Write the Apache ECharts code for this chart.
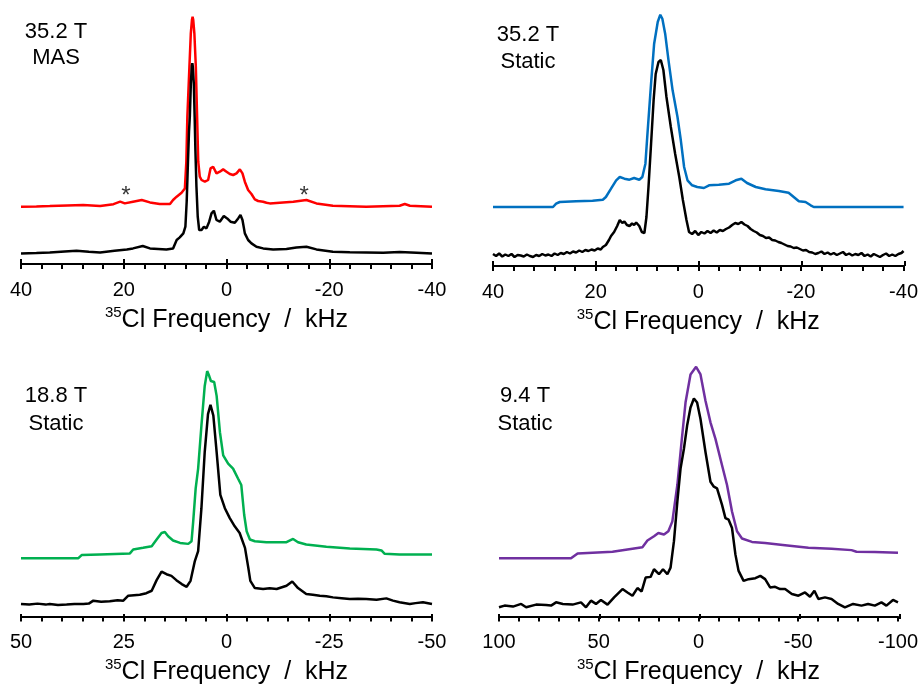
<!DOCTYPE html>
<html>
<head>
<meta charset="utf-8">
<script src="https://cdn.jsdelivr.net/npm/echarts@6/dist/echarts.min.js"></script>
<style>html,body{margin:0;padding:0;background:#fff;}#c{width:921px;height:686px;}</style>
</head>
<body>
<div id="c"></div>
<script>
// ---- Data (frequency in kHz, intensity in arbitrary units) ----
const xRanges = [[-40, 40], [-40, 40], [-50, 50], [-100, 100]];
const xIntervals = [20, 20, 25, 50];
const axisTitle = '{sup|35}{main|Cl Frequency  /  kHz}';
const panelLabels = [['35.2 T', 'MAS'], ['35.2 T', 'Static'], ['18.8 T', 'Static'], ['9.4 T', 'Static']];
const traceColors = ['#ff0000', '#0070c0', '#00b050', '#7030a0'];
const asteriskMark = '*';
const asteriskPos = [[19.6, 71.7], [-15.1, 71.7]];

const mas352Red = [[40,55],[37,55.3],[34.4,55.7],[31,56.3],[27.9,56.7],[24.6,55.7],[22,57.5],[20.7,60],[19.8,58.3],[18.2,60],[16.5,61.7],[14.9,59.3],[13,57.7],[11,57.7],[10.4,61.7],[9.7,65],[8.75,69],[8.1,73.3],[7.82,100],[7.62,145],[7.22,195],[6.95,228],[6.72,242],[6.6,245],[6.48,242],[6.25,228],[5.97,195],[5.72,145],[5.5,100],[5.2,85],[4.86,81.7],[4.21,80],[3.57,81.7],[3.11,93.3],[2.6,95],[1.95,88.3],[1.3,90],[0.65,92.3],[0,90],[-0.65,87.7],[-1.3,86.7],[-1.95,88.3],[-2.6,92.3],[-3.11,88.3],[-3.57,80],[-4.21,71.7],[-4.86,67.7],[-5.51,62.3],[-6.16,60.7],[-7.13,60],[-7.78,59],[-8.43,58.3],[-11,59.3],[-13,60],[-15.56,61.7],[-17.5,58.3],[-20.7,56],[-27.2,55],[-33.7,56],[-34.7,57.7],[-35.7,56],[-40,55]];
const mas352Black = [[40,8.3],[37,8.8],[34.4,9.3],[31.5,10.3],[29.2,11],[26.8,10],[24.6,9.3],[21.8,11],[19.4,12.3],[18.2,13.3],[16.3,15.7],[14.9,13.3],[11.7,12.3],[10.4,13.3],[9.7,21.7],[9.1,24.3],[8.4,28.3],[8.0,35],[7.75,60],[7.5,100],[7.3,130],[7.14,145],[6.94,178],[6.75,196],[6.65,198.4],[6.55,195],[6.36,178],[6.2,145],[6.05,111],[5.85,75],[5.6,45],[5.32,31.7],[4.86,31.7],[4.4,35],[3.9,33.3],[3.37,40],[2.92,48.3],[2.46,51],[1.95,41.7],[1.3,40],[0.52,45.7],[-0.13,43.3],[-0.78,40],[-1.62,39],[-2.27,43.3],[-2.72,46.7],[-3.11,41.7],[-3.57,28.3],[-4.21,21.7],[-4.86,18.3],[-5.83,15],[-7.13,13.3],[-9.08,12.3],[-11.67,12.7],[-13.6,14.3],[-15.56,15],[-17.5,12.3],[-20.7,10],[-24,9.5],[-27.2,9.3],[-30.5,9],[-33.7,9.7],[-37,9],[-40,8.3]];

const static352Blue = [[40,59],[28.3,59],[27.7,62.3],[27,64],[23.8,64.7],[20.6,65.3],[18.6,66.3],[18,69],[17,77.3],[16,85.7],[15.3,89],[14.4,87.3],[13.4,86.3],[12.5,88],[11.5,86.3],[10.9,89],[10.3,102.3],[9.9,132.3],[9.2,182.3],[8.6,222.3],[7.9,244],[7.4,251.3],[7.0,247.3],[6.45,232.3],[5.8,205.7],[5.0,175.7],[4.05,149],[3.4,125.7],[2.76,99],[2.1,85.7],[1.2,80.7],[0.2,79],[-1.1,78],[-2.1,80.7],[-4,81.3],[-6,82.3],[-7.3,85.7],[-8.4,87.3],[-9.5,83],[-11.2,79],[-13.1,76.7],[-15.7,75],[-17.6,73.3],[-18.6,69],[-19.6,64.7],[-20.9,64],[-21.9,60.7],[-22.5,59],[-40,59]];
const static352Black = [[40,12],[39.4,10],[38.8,12.5],[38.2,9.5],[37.6,11.5],[37,10],[36.4,12],[35.8,9],[35.2,11],[34.6,10.5],[34,9.5],[33.4,11.5],[32.8,10],[32.2,9],[31.6,11],[31,10],[30.4,12],[29.8,10.5],[29.2,11.5],[28.6,10],[28,12.5],[27.4,11],[26.8,13],[26.2,12],[25.6,14],[25,12.5],[24.4,14.5],[23.8,13.5],[23.2,15.5],[22.6,14],[22,16],[21.4,15],[20.8,16.5],[20.2,15.5],[19.6,17.5],[19,16.5],[18.6,19],[18,21],[17.4,26],[17,30],[16.4,34],[15.8,40],[15.3,46],[14.8,43],[14.4,44.5],[13.9,41],[13.4,40],[12.9,42.5],[12.5,41],[12.1,43.5],[11.5,40],[11,34],[10.5,33],[10.1,49],[9.7,79],[9.2,122],[8.7,166],[8.3,192],[7.75,204],[7.3,206],[6.8,196],[6.2,169],[5.35,139],[4.5,112],[3.7,89],[3.0,66],[2.3,46],[1.8,34],[1.2,32],[0.6,35],[0,31],[-0.6,34],[-1.2,32.5],[-1.8,35],[-2.4,33],[-3,35.5],[-3.6,33.5],[-4.2,36],[-4.8,35],[-5.4,37],[-6,38.5],[-6.6,41],[-7.2,43],[-7.8,42],[-8.4,44],[-9,41.5],[-9.6,40],[-10.2,37],[-10.8,35],[-11.4,33.5],[-12,31],[-12.6,30],[-13.2,28],[-13.8,28.5],[-14.4,26],[-15,25.5],[-15.6,24],[-16.2,23],[-16.8,21.5],[-17.4,20],[-18,19.5],[-18.6,18],[-19.2,18.5],[-19.8,17],[-20.4,15.5],[-21,16],[-21.6,14],[-22.2,13.5],[-22.8,12],[-23.4,13],[-24,14.5],[-24.6,12],[-25.2,13.5],[-25.8,11.5],[-26.4,13],[-27,11],[-27.6,12.5],[-28.2,14],[-28.8,11],[-29.4,12.5],[-30,10.5],[-30.6,12],[-31.2,11],[-31.8,13],[-32.4,10],[-33,11.5],[-33.6,9.5],[-34.2,12],[-34.8,10.5],[-35.4,9],[-36,11],[-36.6,12.5],[-37.2,10],[-37.8,11.5],[-38.4,10],[-39,12],[-39.6,13],[-40,15]];

const static188Green = [[50,57.7],[36.1,57.7],[35.25,61],[30.8,61.7],[23.5,62.7],[22.7,66.7],[20.3,68.3],[18.2,70],[17,76.7],[15.8,83.3],[15,84.3],[14.2,80],[13,75.7],[11.3,73.3],[9.3,72.3],[8.5,75],[8.1,95],[7.5,128.3],[6.9,148.3],[6.1,191.7],[5.3,231.7],[4.7,246.7],[4.2,241.7],[3.8,236.7],[3.0,235.7],[2.4,221.7],[1.6,185],[0.8,161.7],[-0.4,153.3],[-1.6,148.3],[-2.8,138.3],[-3.6,131.7],[-4.3,101.7],[-4.9,85],[-5.7,76.7],[-6.9,75],[-9.7,74],[-14.6,74],[-16.2,77.3],[-17.4,74],[-19.4,71.7],[-24.3,69.3],[-30,67.7],[-36.5,66.7],[-37.7,65.7],[-38.5,62.3],[-42.1,61.7],[-50,61.7]];
const static188Black = [[50,11.7],[48,11],[46,12],[44,11],[43,11.7],[41,10.7],[38.9,11],[37,11.5],[34.8,11.7],[33.5,12],[32.4,15],[30.5,14],[28.4,14.3],[26.5,15.5],[25.1,15],[23.9,20],[22.5,20.5],[21.1,21],[19.5,22.5],[18.2,25],[17,35.7],[15.8,44.3],[14.6,41.7],[13.4,40],[12.2,35.7],[10.9,31.7],[9.7,29],[8.75,35],[7.7,55],[6.9,65],[6.1,108.3],[5.3,165],[4.5,203.3],[3.9,212.7],[3.2,201.7],[2.4,165],[1.5,121.7],[0.4,108.3],[-0.8,98.3],[-2,90],[-3.2,83.3],[-4.5,68.3],[-5.3,48.3],[-5.8,35],[-6.9,27.7],[-8.9,26.7],[-10.5,27.5],[-12.2,26.7],[-14.6,30],[-16,34.3],[-17.4,27.7],[-19.4,21.7],[-21,21],[-22.7,20],[-24.3,19.5],[-25.9,18.3],[-28,17.5],[-30,16.7],[-32,17],[-34,16.7],[-36.5,16],[-38.9,17.3],[-40.5,15],[-42.1,13.3],[-44.6,11.7],[-46,12.5],[-47.8,13.3],[-50,11.7]];

const static94Purple = [[100,57.7],[63.9,57.7],[60.6,62.7],[43.1,64.3],[28.1,69],[25.6,75.7],[22.3,80],[20.1,83.3],[17.3,81.7],[15.1,85],[13.1,95],[10.6,131.7],[8.5,175],[6.5,215],[4,243.3],[1.2,251],[-1,243.3],[-3.5,216.7],[-6,195],[-8.5,178.3],[-11.8,151.7],[-14.3,131.7],[-16.8,105],[-19.3,85],[-21.8,77.7],[-26.8,74.3],[-33.4,73.3],[-43.4,71],[-55.1,68.3],[-66.7,67.3],[-76.7,66],[-79.2,64.3],[-88.4,64],[-100,63.3]];
const static94Black = [[100,8.3],[97.2,10],[93,9],[88.9,11.7],[86.4,8.3],[81.4,11],[76.4,10.7],[73.9,10],[71.4,13.3],[68,11.7],[63.1,11],[58.9,13.3],[56.4,8.3],[53.9,15],[51.4,11.7],[48.9,15.7],[45.6,11],[42.3,18.3],[38.1,26.7],[35.6,23.3],[33.1,20],[30.6,27.7],[28.5,24.3],[26.5,38.3],[24,39],[22.3,46.7],[19.8,41.7],[17.8,46.7],[15.6,41.7],[14,48.3],[12.3,75],[10.6,115],[9,148.3],[7.3,168.3],[5.7,191.7],[4,210],[2.3,219],[0.7,215],[-1,198.3],[-3.5,165],[-6,135],[-7.7,130],[-9.3,128.3],[-11.8,111.7],[-13.5,98.3],[-15.1,96.7],[-16.8,88.3],[-18.5,61.7],[-20.1,45],[-22.6,35],[-25.1,36.7],[-28.5,37.7],[-31,40],[-33.4,36.7],[-35.9,28.3],[-38.4,29],[-40.9,26.7],[-43.4,26.7],[-46.8,21.7],[-50.1,20],[-53.4,23.3],[-55.9,19],[-58.1,25],[-60.1,16.7],[-63.4,18.3],[-66.7,16.7],[-70,11.7],[-73.4,8.3],[-77.5,11.7],[-81.7,10],[-85,11.7],[-88.4,10],[-91.7,13.3],[-94.2,10],[-97.5,15.7],[-100,13.3]];

const colouredTraces = [mas352Red, static352Blue, static188Green, static94Purple];
const blackTraces = [mas352Black, static352Black, static188Black, static94Black];

// ---- Layout ----
const FONT = '"Liberation Sans", Arial, Helvetica, sans-serif';
const W = 921, H = 686;
const panelBox = [ // left, right edge (px), axis line y, top
  [21, 432, 264, 5],
  [493, 905, 266, 5],
  [21, 432, 619, 350],
  [499, 900, 619, 350]
];
const yRanges = [[-2.3, 256.7], [0, 261], [-1, 268], [-1, 268]];
const labelPos = [[56, 32, 58], [528, 35, 62], [56, 396, 424], [525, 396, 424]];

const axLine = {color: '#000', width: 2};
const grids = [], xAxes = [], yAxes = [], series = [], graphics = [];
for (let i = 0; i < 4; i++) {
  const [l, r, ay, t] = panelBox[i];
  grids.push({left: l, right: W - r, top: t, bottom: H - ay});
}
for (let i = 0; i < 4; i++) { // helper grids for upward half of major ticks
  const [l, r, ay] = panelBox[i];
  grids.push({left: l, right: W - r, top: ay, bottom: H - ay - 1});
}
for (let i = 0; i < 4; i++) {
  const [mn, mx] = xRanges[i];
  xAxes.push({
    gridIndex: i, type: 'value', min: mn, max: mx, inverse: true, interval: xIntervals[i],
    position: 'bottom',
    axisLine: {show: true, onZero: false, lineStyle: axLine},
    axisTick: {show: true, length: 5, lineStyle: axLine},
    minorTick: {show: true, splitNumber: 5, length: 5, lineStyle: axLine},
    splitLine: {show: false}, minorSplitLine: {show: false},
    axisLabel: {fontSize: 20, color: '#000', fontFamily: FONT, margin: 16},
    name: axisTitle, nameLocation: 'middle', nameGap: 41,
    nameTextStyle: {color: '#000', fontFamily: FONT,
      rich: {
        sup: {fontSize: 15, color: '#000', fontFamily: FONT, verticalAlign: 'top', lineHeight: 19},
        main: {fontSize: 25, color: '#000', fontFamily: FONT, lineHeight: 30}
      }}
  });
  yAxes.push({gridIndex: i, type: 'value', min: yRanges[i][0], max: yRanges[i][1], show: false});
  series.push({type: 'line', xAxisIndex: i, yAxisIndex: i, data: colouredTraces[i], symbol: 'none',
    lineStyle: {color: traceColors[i], width: 2.5}, itemStyle: {color: traceColors[i]}, clip: false, z: 3});
  series.push({type: 'line', xAxisIndex: i, yAxisIndex: i, data: blackTraces[i], symbol: 'none',
    lineStyle: {color: '#000', width: 2.5}, itemStyle: {color: '#000'}, clip: false, z: 4});
  const [cx, y1, y2] = labelPos[i];
  graphics.push({type: 'text', x: cx, y: y1, style: {text: panelLabels[i][0], font: '22px ' + FONT, fill: '#000', align: 'center', verticalAlign: 'middle'}});
  graphics.push({type: 'text', x: cx, y: y2, style: {text: panelLabels[i][1], font: '22px ' + FONT, fill: '#000', align: 'center', verticalAlign: 'middle'}});
}
for (let i = 0; i < 4; i++) {
  const [mn, mx] = xRanges[i];
  xAxes.push({
    gridIndex: 4 + i, type: 'value', min: mn, max: mx, inverse: true, interval: xIntervals[i], position: 'top',
    axisLine: {show: false, onZero: false}, axisTick: {show: true, inside: false, length: 5, lineStyle: axLine},
    axisLabel: {show: false}, splitLine: {show: false}
  });
  yAxes.push({gridIndex: 4 + i, type: 'value', min: 0, max: 1, show: false});
}
series.push({type: 'scatter', xAxisIndex: 0, yAxisIndex: 0, data: asteriskPos, symbolSize: 0,
  label: {show: true, formatter: asteriskMark, position: 'inside', fontSize: 24, color: '#000', fontFamily: FONT, offset: [0, 6]}});

const chart = echarts.init(document.getElementById('c'), null, {renderer: 'canvas'});
chart.setOption({
  animation: false, backgroundColor: '#fff',
  grid: grids, xAxis: xAxes, yAxis: yAxes, series: series, graphic: graphics
});
</script>
</body>
</html>
